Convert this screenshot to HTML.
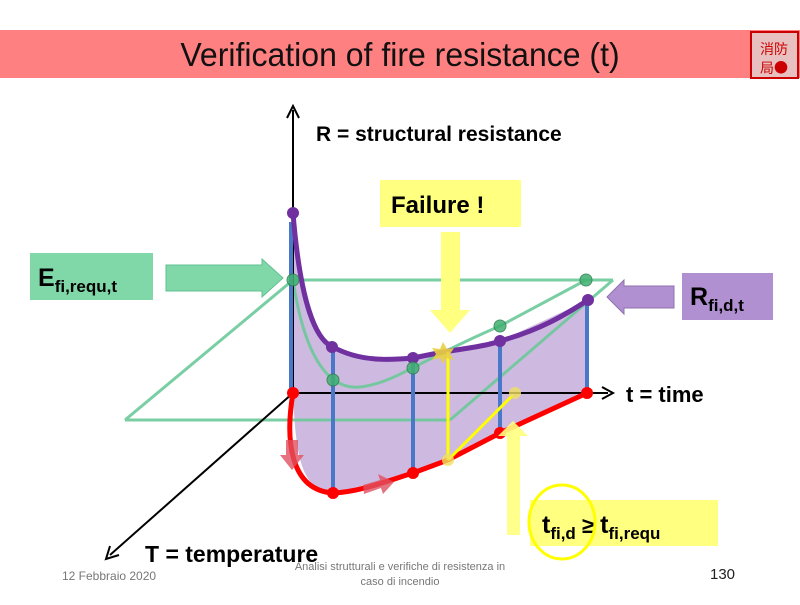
<!DOCTYPE html>
<html><head><meta charset="utf-8"><style>
body{margin:0;width:800px;height:600px;overflow:hidden;background:#fff;font-family:"Liberation Sans",sans-serif}
</style></head><body>
<svg width="800" height="600" viewBox="0 0 800 600" xmlns="http://www.w3.org/2000/svg" font-family="Liberation Sans, sans-serif">
<rect x="0" y="30" width="800" height="48" fill="#ff8080"/>
<text x="400" y="66" font-size="33" text-anchor="middle" fill="#111" transform="translate(400 0) scale(0.97 1) translate(-400 0)">Verification of fire resistance (t)</text>
<rect x="751" y="32" width="47" height="46" fill="#e8c0c0" stroke="#c00" stroke-width="2"/>
<text x="774" y="54" font-size="14" fill="#c00" text-anchor="middle" font-family="Noto Sans CJK SC, sans-serif">消防</text>
<text x="774" y="73" font-size="14" fill="#c00" text-anchor="middle" font-family="Noto Sans CJK SC, sans-serif">局●</text>

<path d="M293,213 C300,300 315,340 333,347 C360,362 390,360 413,358 L443,352 L500,341 L588,300 L587,393 L500,433 L448,460 L413,473 L333,493 C305,488 296,470 293,393 Z" fill="#c9b3dd" opacity="0.9"/>
<g stroke="#6cc99a" stroke-width="3" fill="none" opacity="0.9">
<line x1="293" y1="280" x2="613" y2="280"/>
<line x1="125" y1="420" x2="450" y2="420"/>
<line x1="125" y1="420" x2="293" y2="280"/>
<line x1="450" y1="420" x2="613" y2="280"/>
<path d="M293,280 C305,360 330,390 360,387 C395,383 420,360 500,326 L586,280"/>
</g>
<g stroke="#000" stroke-width="2" fill="none">
<line x1="293" y1="393" x2="293" y2="110"/>
<path d="M287,118 L293,106 L299,118"/>
<line x1="293" y1="393" x2="608" y2="393"/>
<path d="M602,387 L613,393 L602,399"/>
<line x1="293" y1="393" x2="110" y2="555"/>
<path d="M110,546 L106,559 L119,555"/>
</g>
<g stroke="#4a78c8" stroke-width="4">
<line x1="291" y1="393" x2="291" y2="222"/>
<line x1="333" y1="493" x2="333" y2="352"/>
<line x1="413" y1="473" x2="413" y2="362"/>
<line x1="500" y1="433" x2="500" y2="345"/>
<line x1="587" y1="393" x2="587" y2="305"/>
</g>
<path d="M293,213 C300,300 315,340 333,347 C360,362 390,360 413,358 L443,352 C470,348 490,345 500,341 C540,330 565,315 588,300" stroke="#7030a0" stroke-width="5" fill="none"/>
<path d="M293,393 C285,440 290,490 333,493 C360,492 390,480 413,473 L448,460 L500,433 L587,393" stroke="#f00" stroke-width="5" fill="none"/>
<path d="M286,440 L298,440 L298,455 L304,455 L292,470 L280,455 L286,455Z" fill="#e05060" opacity="0.8"/>
<path d="M363,485 L380,480 L378,474 L394,482 L383,494 L381,488 L364,494Z" fill="#e05060" opacity="0.8"/>
<g stroke="#ffff00" stroke-width="3">
<line x1="448" y1="352" x2="448" y2="460"/>
<line x1="448" y1="460" x2="513" y2="395"/>
</g>
<circle cx="515" cy="393" r="6" fill="#f0e060" opacity="0.8"/>
<circle cx="448" cy="460" r="6" fill="#f0e060" opacity="0.8"/>
<polygon points="443,342 447,349 454,348 450,354 454,360 446,358 443,364 440,358 432,360 436,354 432,348 440,349" fill="#e8d040" opacity="0.9"/>
<g fill="#7030a0"><circle cx="293" cy="213" r="6"/><circle cx="332" cy="347" r="6"/><circle cx="413" cy="358" r="6"/><circle cx="500" cy="341" r="6"/><circle cx="588" cy="300" r="6"/></g>
<g fill="#40b070" stroke="#2a8050" stroke-width="1" opacity="0.85"><circle cx="293" cy="280" r="6"/><circle cx="333" cy="380" r="6"/><circle cx="413" cy="368" r="6"/><circle cx="500" cy="326" r="6"/><circle cx="586" cy="280" r="6"/></g>
<g fill="#f00"><circle cx="293" cy="393" r="6"/><circle cx="333" cy="493" r="6"/><circle cx="413" cy="473" r="6"/><circle cx="500" cy="433" r="6"/><circle cx="587" cy="393" r="6"/></g>

<text x="316" y="141" font-size="21" font-weight="bold">R = structural resistance</text>
<rect x="380" y="180" width="141" height="47" fill="#ffff80"/>
<text x="391" y="213" font-size="24" font-weight="bold">Failure !</text>
<path d="M441,232 L460,232 L460,310 L470,310 L450,333 L430,310 L441,310Z" fill="#ffff80"/>

<rect x="30" y="253" width="123" height="47" fill="#80d8a8"/>
<text x="38" y="286" font-size="25" font-weight="bold">E<tspan font-size="17" dy="6">fi,requ,t</tspan></text>
<path d="M166,265 L262,265 L262,259 L283,278 L262,297 L262,291 L166,291Z" fill="#80d8a8" stroke="#60c090"/>

<rect x="682" y="273" width="91" height="47" fill="#b090d0"/>
<text x="690" y="305" font-size="25" font-weight="bold">R<tspan font-size="17" dy="6">fi,d,t</tspan></text>
<path d="M674,286 L624,286 L624,280 L607,297 L624,314 L624,308 L674,308Z" fill="#b090d0" stroke="#9070b0"/>

<text x="626" y="402" font-size="22" font-weight="bold">t = time</text>

<path d="M507,535 L520,535 L520,436 L528,436 L513,421 L498,436 L507,436Z" fill="#ffff80" opacity="0.9"/>
<rect x="530" y="500" width="188" height="46" fill="#ffff80"/>
<text x="542" y="533" font-size="25" font-weight="bold">t<tspan font-size="17" dy="6">fi,d</tspan><tspan dy="-6" font-size="22"> ≥ </tspan><tspan font-size="25">t</tspan><tspan font-size="17" dy="6">fi,requ</tspan></text>
<ellipse cx="562" cy="522" rx="33" ry="37" fill="none" stroke="#ffff00" stroke-width="3"/>

<text x="145" y="562" font-size="23" font-weight="bold">T = temperature</text>
<text x="62" y="580" font-size="12" fill="#777">12 Febbraio 2020</text>
<text x="400" y="570" font-size="11" fill="#777" text-anchor="middle">Analisi strutturali e verifiche di resistenza in</text>
<text x="400" y="585" font-size="11" fill="#777" text-anchor="middle">caso di incendio</text>
<text x="710" y="579" font-size="15" fill="#222">130</text>
</svg>
</body></html>
